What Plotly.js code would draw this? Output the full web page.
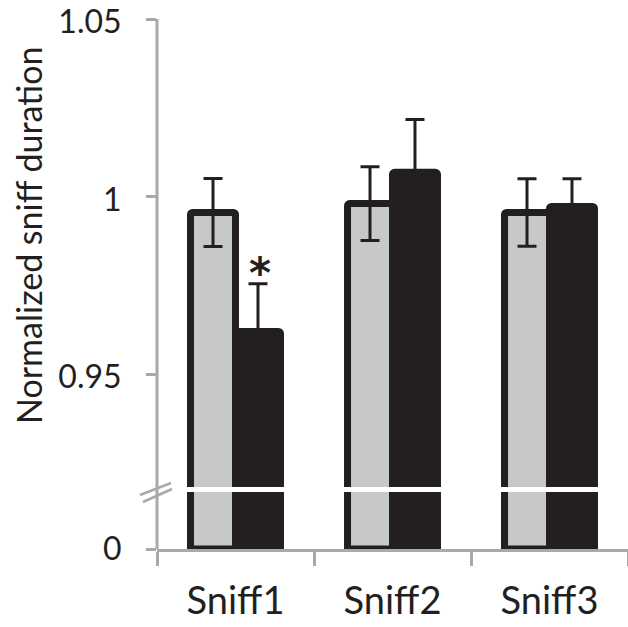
<!DOCTYPE html>
<html>
<head>
<meta charset="utf-8">
<script src="https://cdn.plot.ly/plotly-3.0.1.min.js"></script>
<style>html,body{margin:0;padding:0;background:#fff;}#chart{width:628px;height:627px;}</style>
</head>
<body>
<div id="chart"></div>
<script>
// ---- data ----
const categories = ['Sniff1', 'Sniff2', 'Sniff3'];
const controlMean = [0.9955, 0.998, 0.9955];
const controlErr  = [0.0096, 0.0104, 0.0095];
const treatMean   = [0.962, 1.0068, 0.9972];
const treatErr    = [0.0134, 0.0149, 0.0078];
const upperTicks = [0.95, 1, 1.05];
const upperTickText = ['0.95', '1', '1.05'];
const lowerTicks = [0];
const lowerTickText = ['0'];
const yTitle = 'Normalized sniff duration';
const sigMark = '*';

// ---- styles ----
const GRAY = '#c7c8ca';
const BLACK = '#231f20';
const AXIS = '#a7a9ac';
const FONT = 'Lato, "Open Sans", sans-serif';
const TOP = 17, BOTTOM = 549, H = BOTTOM - TOP;
const PXPERUNIT = 3550;
const py = v => (BOTTOM - v) / H;   // pixel row -> paper y
const px = v => (v - 157) / 471;     // pixel col -> paper x

function barTrace(y, color, yaxis, err) {
  const t = {
    type: 'bar', x: categories, y: y, yaxis: yaxis, xaxis: 'x',
    marker: {color: color, line: {color: BLACK, width: 7}, cornerradius: 2},
    showlegend: false, hoverinfo: 'skip'
  };
  if (err) {
    t.error_y = {type: 'data', array: err, visible: true, color: BLACK, thickness: 3, width: 9.5};
  }
  return t;
}

const traces = [
  barTrace(controlMean, GRAY, 'y', controlErr),
  barTrace(treatMean, BLACK, 'y', treatErr),
  barTrace(controlMean, GRAY, 'y2', null),
  barTrace(treatMean, BLACK, 'y2', null)
];

const yCommon = {
  showline: false, showgrid: false, zeroline: false,
  ticks: 'outside', ticklen: 10, tickwidth: 3, tickcolor: AXIS,
  tickfont: {family: FONT, size: 32, color: BLACK},
  ticklabelstandoff: 18, ticklabeloverflow: 'allow', fixedrange: true
};

const layout = {
  width: 628, height: 627,
  margin: {l: 157, r: 0, t: TOP, b: 627 - BOTTOM},
  paper_bgcolor: '#fff', plot_bgcolor: 'rgba(0,0,0,0)',
  barmode: 'group', bargap: 0.427, bargroupgap: 0,
  font: {family: FONT, color: BLACK},
  xaxis: {
    type: 'category', anchor: 'y2', range: [-0.5, 2.5],
    showline: true, linecolor: AXIS, linewidth: 3,
    ticks: 'outside', tickson: 'boundaries', ticklen: 14, tickwidth: 3, tickcolor: AXIS,
    tickfont: {family: FONT, size: 38, color: BLACK}, ticklabelstandoff: 16,
    ticklabeloverflow: 'allow',
    showgrid: false, zeroline: false, fixedrange: true
  },
  yaxis: Object.assign({}, yCommon, {
    domain: [py(487), 1], range: [1.05 - (487 - 19) / PXPERUNIT, 1.05 + (19 - TOP) / PXPERUNIT],
    tickmode: 'array', tickvals: upperTicks, ticktext: upperTickText, anchor: 'x',
    ticklabelshift: 3
  }),
  yaxis2: Object.assign({}, yCommon, {
    domain: [0, py(492)], range: [0, 0.1],
    tickmode: 'array', tickvals: lowerTicks, ticktext: lowerTickText, anchor: 'x'
  }),
  shapes: [
    {type: 'line', xref: 'paper', yref: 'paper', x0: 0, x1: 0, y0: 0, y1: py(19),
     line: {color: AXIS, width: 3}},
    {type: 'line', xref: 'paper', yref: 'paper',
     x0: px(140), x1: px(171), y0: py(495), y1: py(483),
     line: {color: AXIS, width: 2.5}},
    {type: 'line', xref: 'paper', yref: 'paper',
     x0: px(143), x1: px(172), y0: py(502), y1: py(489),
     line: {color: AXIS, width: 2.5}}
  ],
  annotations: [
    {text: yTitle, xref: 'paper', yref: 'paper', x: px(29), y: py(236),
     xanchor: 'center', yanchor: 'middle', textangle: -90, showarrow: false,
     font: {family: FONT, size: 34, color: BLACK}},
    {text: '<b>' + sigMark + '</b>', xref: 'x', yref: 'y', x: categories[0], xshift: 24,
     y: treatMean[0] + treatErr[0], yanchor: 'middle', yshift: 10, showarrow: false,
     font: {family: '"DejaVu Sans", sans-serif', size: 42, color: BLACK}}
  ]
};

Plotly.newPlot('chart', traces, layout, {displayModeBar: false, staticPlot: true});
</script>
</body>
</html>
